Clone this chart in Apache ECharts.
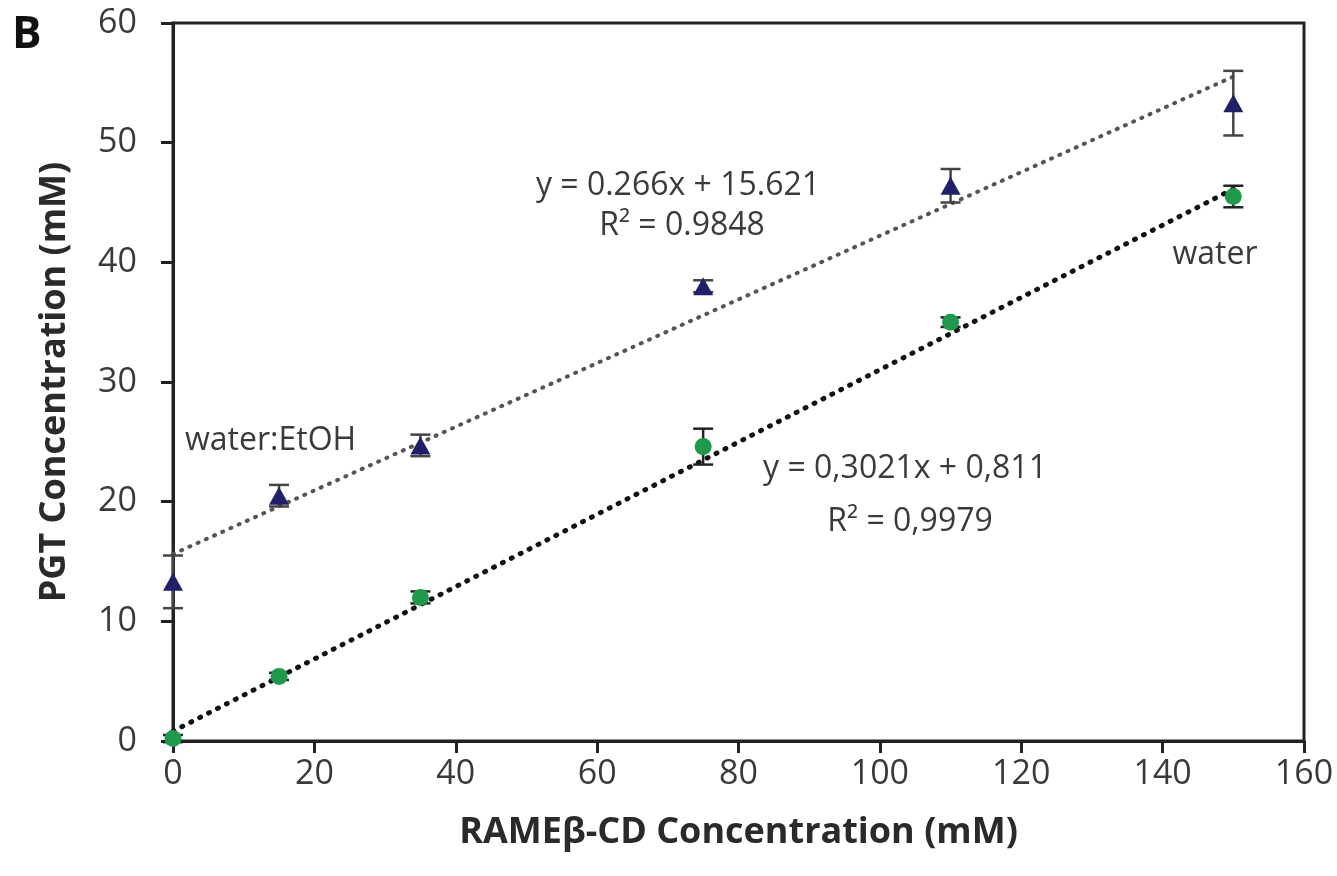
<!DOCTYPE html>
<html lang="en">
<head>
    <meta charset="UTF-8">
    <title>PGT vs RAMEβ-CD</title>
    <script src="https://cdn.jsdelivr.net/npm/echarts@6/dist/echarts.min.js"></script>
    <style>
        html, body { margin: 0; padding: 0; background: #fff; }
    </style>
</head>
<body>
    <div id="main" style="width: 1337px;height:876px;"></div>

    <script type="text/javascript">

        // RAMEβ-CD concentration (mM)
        var xVals = [0, 15, 35, 75, 110, 150]

        // water:EtOH series (triangles)
        var etohY = [13.3, 20.5, 24.7, 38.0, 46.4, 53.3]
        var etohErr = [2.2, 0.9, 0.9, 0.5, 1.4, 2.7]

        // water series (circles)
        var waterY = [0.2, 5.4, 12.0, 24.6, 35.0, 45.5]
        var waterErr = [0.3, 0.3, 0.5, 1.5, 0.4, 0.9]

        // trend line end points, from the fitted equations
        var etohTrend = [[0, 15.621], [150, 55.521]]
        var waterTrend = [[0, 0.811], [150, 46.126]]

        var xTicks = [0, 20, 40, 60, 80, 100, 120, 140, 160]
        var yTicks = [0, 10, 20, 30, 40, 50, 60]

        var font = '"Open Sans", "DejaVu Sans", sans-serif'

        var myChart = echarts.init(document.getElementById('main'));

        function pairs(ys) {
            return xVals.map(function (x, i) { return [x, ys[i]] })
        }
        function errData(ys, errs) {
            return xVals.map(function (x, i) { return [x, ys[i] - errs[i], ys[i] + errs[i]] })
        }

        function errorBar(color) {
            return function (params, api) {
                var lo = api.coord([api.value(0), api.value(1)])
                var hi = api.coord([api.value(0), api.value(2)])
                var w = 10
                var st = { stroke: color, lineWidth: 2.5 }
                return {
                    type: 'group',
                    children: [
                        { type: 'line', shape: { x1: lo[0], y1: lo[1], x2: hi[0], y2: hi[1] }, style: st },
                        { type: 'line', shape: { x1: lo[0] - w, y1: lo[1], x2: lo[0] + w, y2: lo[1] }, style: st },
                        { type: 'line', shape: { x1: hi[0] - w, y1: hi[1], x2: hi[0] + w, y2: hi[1] }, style: st }
                    ]
                }
            }
        }

        var textStyle = { fill: '#3a3a3a', font: '32px ' + font, textAlign: 'center', textVerticalAlign: 'middle' }
        function label(text, x, y, align) {
            return {
                type: 'text', x: x, y: y, z: 10,
                style: Object.assign({}, textStyle, { text: text, textAlign: align || 'center' })
            }
        }

        var option = {
            animation: false,
            grid: {
                left: 173, right: 33, top: 23, bottom: 135,
                show: true, borderColor: '#222', borderWidth: 3
            },
            xAxis: {
                type: 'value',
                min: 0, max: 160, interval: 20,
                name: 'RAMEβ-CD Concentration (mM)',
                nameLocation: 'middle',
                nameGap: 74,
                nameTextStyle: { fontFamily: font, fontWeight: 'bold', fontSize: 36, color: '#2a2a2a' },
                axisLine: { onZero: false, lineStyle: { color: '#222', width: 3 } },
                axisTick: { show: true, length: 12, lineStyle: { color: '#222', width: 3 } },
                axisLabel: {
                    fontFamily: font, fontSize: 34, color: '#3a3a3a', margin: 16,
                    formatter: function (v) { return xTicks.indexOf(v) >= 0 ? String(v) : '' }
                },
                splitLine: { show: false }
            },
            yAxis: {
                type: 'value',
                min: 0, max: 60, interval: 10,
                name: 'PGT Concentration (mM)',
                nameLocation: 'middle',
                nameGap: 100,
                nameTextStyle: { fontFamily: font, fontWeight: 'bold', fontSize: 36, color: '#2a2a2a' },
                axisLine: { onZero: false, lineStyle: { color: '#222', width: 3 } },
                axisTick: { show: true, length: 12, lineStyle: { color: '#222', width: 3 } },
                axisLabel: {
                    fontFamily: font, fontSize: 34, color: '#3a3a3a', margin: 36,
                    formatter: function (v) { return yTicks.indexOf(v) >= 0 ? String(v) : '' }
                },
                splitLine: { show: false }
            },
            graphic: [
                { type: 'text', x: 12, y: 35, style: { text: 'B', fill: '#111', font: 'bold 44px ' + font, textVerticalAlign: 'middle' } },
                label('y = 0.266x + 15.621', 678, 186),
                label('R² = 0.9848', 682, 226),
                label('water:EtOH', 185, 441, 'left'),
                label('y = 0,3021x + 0,811', 905, 469),
                label('R² = 0,9979', 910, 522),
                label('water', 1215, 255)
            ],
            series: [
                {
                    type: 'line', data: etohTrend, symbol: 'none', silent: true, z: 1,
                    lineStyle: { color: '#555', width: 4, type: [1, 8], cap: 'round' }
                },
                {
                    type: 'line', data: waterTrend, symbol: 'none', silent: true, z: 1,
                    lineStyle: { color: '#111', width: 5, type: [1, 9], cap: 'round' }
                },
                {
                    type: 'custom', data: errData(etohY, etohErr), renderItem: errorBar('#444'),
                    encode: { x: 0, y: [1, 2] }, clip: false, z: 2
                },
                {
                    type: 'custom', data: errData(waterY, waterErr), renderItem: errorBar('#222'),
                    encode: { x: 0, y: [1, 2] }, clip: false, z: 2
                },
                {
                    type: 'scatter', data: pairs(etohY), symbol: 'triangle', symbolSize: [20, 18],
                    itemStyle: { color: '#20206a', opacity: 1 }, clip: false, z: 3
                },
                {
                    type: 'scatter', data: pairs(waterY), symbol: 'circle', symbolSize: 17,
                    itemStyle: { color: '#1e9a4c', opacity: 1 }, clip: false, z: 3
                }
            ]
        };
        myChart.setOption(option);
    </script>
</body>
</html>
